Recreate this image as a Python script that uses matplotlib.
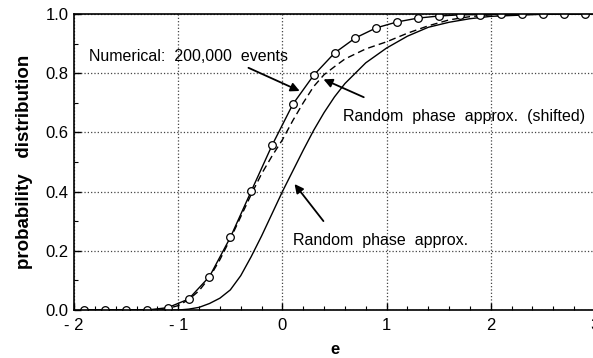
import numpy as np
import matplotlib.pyplot as plt
from matplotlib.ticker import MultipleLocator

plt.rcParams['font.family'] = ['Liberation Sans', 'DejaVu Sans']

# numerical simulation points (200,000 events)
e_num = [-1.9, -1.7, -1.5, -1.3, -1.1, -0.9, -0.7, -0.5, -0.3, -0.1,
         0.1, 0.3, 0.5, 0.7, 0.9, 1.1, 1.3, 1.5, 1.7, 1.9,
         2.1, 2.3, 2.5, 2.7, 2.9]
p_num = [0.0, 0.0, 0.0, 0.0, 0.008, 0.037, 0.113, 0.245, 0.401, 0.556,
         0.695, 0.793, 0.868, 0.919, 0.953, 0.973, 0.986, 0.993, 0.997, 0.998,
         0.999, 0.999, 0.999, 0.999, 0.999]

# random phase approx. (shifted) - dashed
e_shift = [-1.9, -1.2, -1.1, -1.0, -0.9, -0.8, -0.7, -0.6, -0.5, -0.4, -0.3,
           -0.2, -0.1, 0.0, 0.1, 0.2, 0.3, 0.4, 0.5, 0.6, 0.8, 1.0, 1.2,
           1.4, 1.6, 1.8, 2.0, 2.5, 3.0]
p_shift = [0.0, 0.0, 0.005, 0.015, 0.035, 0.065, 0.11, 0.17, 0.24, 0.315, 0.39,
           0.46, 0.52, 0.575, 0.64, 0.70, 0.755, 0.795, 0.822, 0.848, 0.882, 0.906, 0.935,
           0.96, 0.98, 0.991, 0.997, 1.0, 1.0]

# random phase approx. - solid, no markers
e_rpa = [-1.9, -1.0, -0.9, -0.8, -0.7, -0.6, -0.5, -0.4, -0.3, -0.2, -0.1, 0.0,
         0.1, 0.2, 0.3, 0.4, 0.5, 0.6, 0.8, 1.0, 1.2, 1.4, 1.6, 1.8, 2.0,
         2.5, 3.0]
p_rpa = [0.0, 0.0, 0.003, 0.009, 0.022, 0.04, 0.068, 0.116, 0.18, 0.25, 0.325, 0.4,
         0.47, 0.54, 0.607, 0.667, 0.72, 0.765, 0.835, 0.885, 0.925, 0.955, 0.972, 0.984, 0.992,
         0.999, 1.0]

fig = plt.figure(figsize=(5.93, 3.58), dpi=100)
ax = fig.add_axes([0.1248, 0.134, 0.8786, 0.827])

ax.plot(e_rpa, p_rpa, color='black', lw=1.0)
ax.plot(e_shift, p_shift, color='black', lw=1.0, ls=(0, (5, 3)))
ax.plot(e_num, p_num, color='black', lw=1.0, marker='o', ms=5.5,
        mfc='white', mec='black', mew=0.9)

ax.set_xlim(-2, 3)
ax.set_ylim(0, 1)
ax.xaxis.set_minor_locator(MultipleLocator(0.2))
ax.yaxis.set_minor_locator(MultipleLocator(0.1))
ax.set_xticks([-2, -1, 0, 1, 2, 3])
ax.set_xticklabels(['- 2', '- 1', '0', '1', '2', '3'])
ax.set_yticks([0.0, 0.2, 0.4, 0.6, 0.8, 1.0])
ax.set_yticklabels(['0.0', '0.2', '0.4', '0.6', '0.8', '1.0'])
ax.tick_params(which='both', direction='in', labelsize=12, colors='black')
ax.tick_params(axis='x', pad=6)
ax.tick_params(axis='y', pad=4)
ax.tick_params(which='major', length=5, width=1)
ax.tick_params(which='minor', length=3, width=0.8)
ax.grid(True, which='major', color='#444444', ls=':', lw=0.9)

for s in ['left', 'bottom', 'top']:
    ax.spines[s].set_linewidth(1.2)
ax.spines['right'].set_visible(False)

ax.set_xlabel('e', fontsize=12, fontweight='bold', labelpad=6)
ax.set_ylabel('probability   distribution', fontsize=13.5, fontweight='bold', labelpad=9)

arrow = dict(arrowstyle='-|>', color='black', lw=1.3, mutation_scale=13)
ax.text(-1.86, 0.857, 'Numerical:  200,000  events', fontsize=11.5, va='center', ha='left')
ax.annotate('', xy=(0.19, 0.736), xytext=(-0.35, 0.822), arrowprops=arrow)
ax.text(0.58, 0.652, 'Random  phase  approx.  (shifted)', fontsize=11.5, va='center', ha='left')
ax.annotate('', xy=(0.37, 0.783), xytext=(0.805, 0.715), arrowprops=arrow)
ax.text(0.1, 0.236, 'Random  phase  approx.', fontsize=11.5, va='center', ha='left')
ax.annotate('', xy=(0.1, 0.433), xytext=(0.41, 0.293), arrowprops=arrow)

fig.savefig('out.png', dpi=100)
